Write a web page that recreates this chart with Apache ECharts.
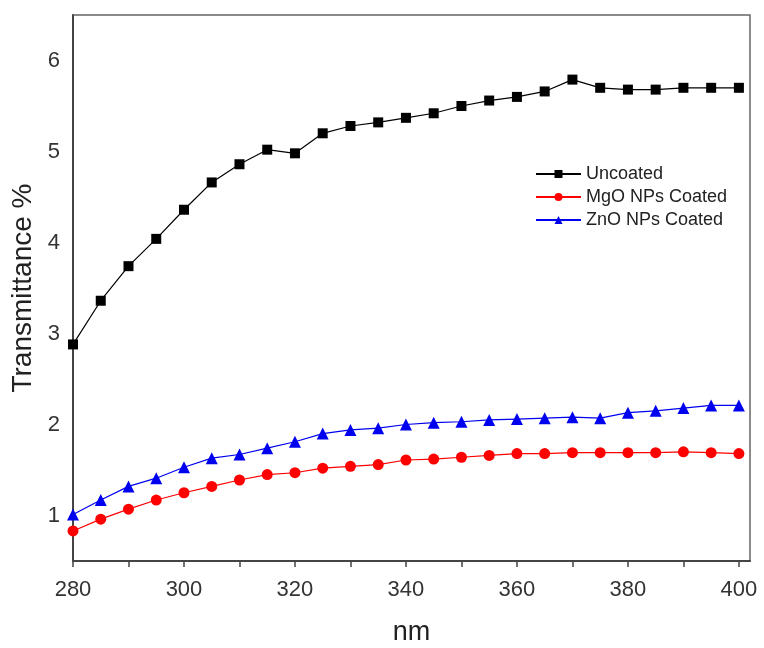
<!DOCTYPE html>
<html>
<head>
<meta charset="utf-8">
<script src="https://cdn.jsdelivr.net/npm/echarts@6/dist/echarts.min.js"></script>
<style>html,body{margin:0;padding:0;background:#fff}#c{width:764px;height:648px}</style>
</head>
<body>
<div id="c"></div>
<script>
var wavelengths = [280,285,290,295,300,305,310,315,320,325,330,335,340,345,350,355,360,365,370,375,380,385,390,395,400];
var uncoated = [2.88,3.36,3.74,4.04,4.36,4.66,4.86,5.02,4.98,5.20,5.28,5.32,5.37,5.42,5.50,5.56,5.60,5.66,5.79,5.70,5.68,5.68,5.70,5.70,5.70];
var mgoCoated = [0.83,0.96,1.07,1.17,1.25,1.32,1.39,1.45,1.47,1.52,1.54,1.56,1.61,1.62,1.64,1.66,1.68,1.68,1.69,1.69,1.69,1.69,1.70,1.69,1.68];
var znoCoated = [1.01,1.17,1.32,1.41,1.53,1.63,1.67,1.74,1.81,1.90,1.94,1.96,2.00,2.02,2.03,2.05,2.06,2.07,2.08,2.07,2.13,2.15,2.18,2.21,2.21];
var xTicks = [280,290,300,310,320,330,340,350,360,370,380,390,400];
var xLabels = [280,300,320,340,360,380,400];
var yLabels = [1,2,3,4,5,6];

function pairs(ys){ return wavelengths.map(function(x,i){ return [x, ys[i]]; }); }

var FONT = 'Liberation Sans, Arial, sans-serif';
var chart = echarts.init(document.getElementById('c'), null, {renderer:'canvas'});
chart.setOption({
  animation:false,
  backgroundColor:'#fff',
  grid:{left:73, top:15, right:14, bottom:87, outerBoundsMode:'none', containLabel:false,
        show:true, borderColor:'#666', borderWidth:1.5, backgroundColor:'transparent'},
  legend:{
    orient:'vertical', left:530, top:160, itemWidth:45, itemHeight:10, itemGap:5,
    textStyle:{fontFamily:FONT, fontSize:18, color:'#222'},
    data:['Uncoated','MgO NPs Coated','ZnO NPs Coated']
  },
  xAxis:{
    type:'value', min:280, max:402,
    name:'nm', nameLocation:'middle', nameGap:58,
    nameTextStyle:{fontFamily:FONT, fontSize:27, color:'#222'},
    axisLine:{show:true, onZero:false, lineStyle:{color:'#444', width:2}},
    axisTick:{show:true, inside:false, length:6, customValues:xTicks, lineStyle:{color:'#444', width:1.5}},
    axisLabel:{customValues:xLabels, fontFamily:FONT, fontSize:22, color:'#333', margin:18},
    splitLine:{show:false}
  },
  yAxis:{
    type:'value', min:0.5, max:6.5,
    name:'Transmittance %', nameLocation:'middle', nameGap:34,
    nameTextStyle:{fontFamily:FONT, fontSize:28, color:'#222'},
    axisLine:{show:true, onZero:false, lineStyle:{color:'#444', width:2}},
    axisTick:{show:false},
    axisLabel:{customValues:yLabels, fontFamily:FONT, fontSize:22, color:'#333', margin:13},
    splitLine:{show:false}
  },
  series:[
    {name:'Uncoated', type:'line', data:pairs(uncoated), symbol:'rect', symbolSize:10,
     itemStyle:{color:'#000'}, lineStyle:{color:'#000', width:1.2}},
    {name:'MgO NPs Coated', type:'line', data:pairs(mgoCoated), symbol:'circle', symbolSize:11,
     itemStyle:{color:'#f00'}, lineStyle:{color:'#f00', width:1.2}},
    {name:'ZnO NPs Coated', type:'line', data:pairs(znoCoated), symbol:'triangle', symbolSize:12,
     itemStyle:{color:'#0000f0'}, lineStyle:{color:'#0000f0', width:1.2}}
  ]
});
</script>
</body>
</html>
